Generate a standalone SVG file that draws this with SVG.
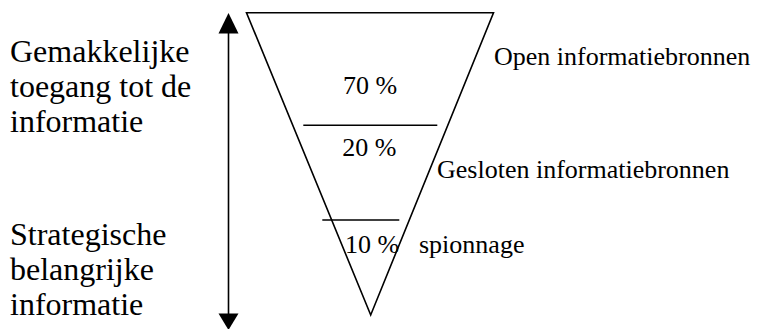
<svg xmlns="http://www.w3.org/2000/svg" width="757" height="329" viewBox="0 0 757 329">
<style>
  .ln { stroke: #000; stroke-width: 1.6; fill: none; }
  text { font-family: 'Liberation Serif', Tinos, 'Times New Roman', 'DejaVu Serif', serif; fill: #000; }
  .big { font-size: 32px; }
  .sm { font-size: 26px; }
</style>
<rect width="757" height="329" fill="#fff"/>
<g id="connectors">
  <line class="ln" x1="228.5" y1="30" x2="228.5" y2="316"/>
  <polygon points="228.5,13 218.5,33.5 238.5,33.5" fill="#000"/>
  <polygon points="228.5,330 218.5,313.5 238.5,313.5" fill="#000"/>
</g>
<g id="funnel">
  <polygon class="ln" points="246.5,12.7 493.5,12.7 370.7,315"/>
  <line class="ln" x1="303.3" y1="125.3" x2="437.3" y2="125.3"/>
  <line class="ln" x1="322.3" y1="220" x2="399.3" y2="220"/>
</g>
<g id="pct">
  <text class="sm" x="343" y="93.5" font-family="Liberation Serif, serif">70 %</text>
  <text class="sm" x="342.3" y="155.7">20 %</text>
  <text class="sm" x="345" y="253.3">10 %</text>
</g>
<g id="right-labels">
  <text class="sm" x="494" y="65">Open informatiebronnen</text>
  <text class="sm" x="437" y="177.7">Gesloten informatiebronnen</text>
  <text class="sm" x="419" y="253.3">spionnage</text>
</g>
<g id="left-top">
  <text class="big" x="10" y="61.7">Gemakkelijke</text>
  <text class="big" x="10" y="96.7">toegang tot de</text>
  <text class="big" x="10" y="132.3">informatie</text>
</g>
<g id="left-bottom">
  <text class="big" x="10" y="245">Strategische</text>
  <text class="big" x="10" y="280">belangrijke</text>
  <text class="big" x="10" y="315">informatie</text>
</g>
</svg>
